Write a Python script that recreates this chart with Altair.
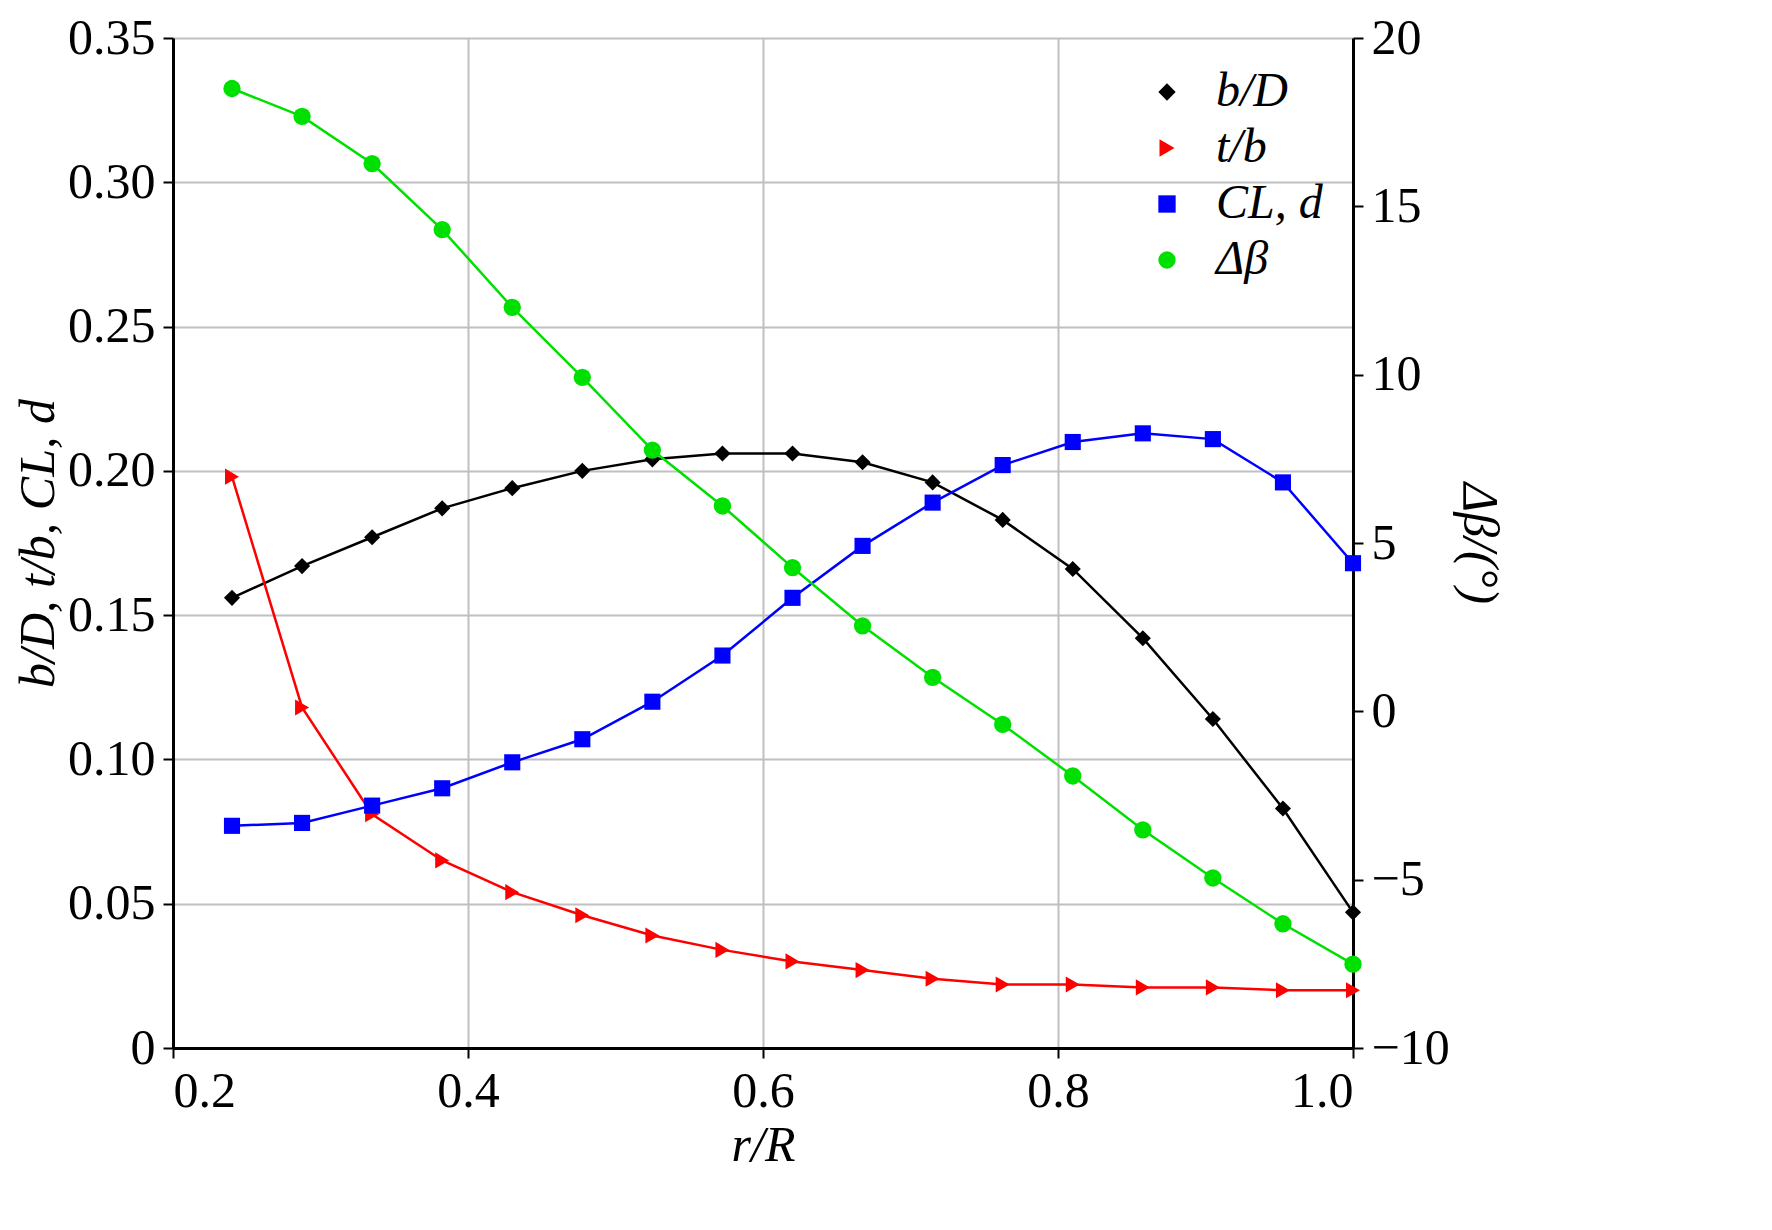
import altair as alt
import pandas as pd

r_R = [0.24, 0.2875, 0.335, 0.3825, 0.43, 0.4775, 0.525, 0.5725, 0.62,
       0.6675, 0.715, 0.7625, 0.81, 0.8575, 0.905, 0.9525, 1.0]
b_D = [0.156, 0.167, 0.177, 0.187, 0.194, 0.200, 0.204, 0.206, 0.206,
       0.203, 0.196, 0.183, 0.166, 0.142, 0.114, 0.083, 0.047]
t_b = [0.198, 0.118, 0.081, 0.065, 0.054, 0.046, 0.039, 0.034, 0.030,
       0.027, 0.024, 0.022, 0.022, 0.021, 0.021, 0.020, 0.020]
C_Ld = [0.077, 0.078, 0.084, 0.090, 0.099, 0.107, 0.120, 0.136, 0.156,
        0.174, 0.189, 0.202, 0.210, 0.213, 0.211, 0.196, 0.168]
d_beta = [18.5, 17.67, 16.27, 14.31, 12.0, 9.92, 7.76, 6.10, 4.27,
          2.54, 1.01, -0.39, -1.92, -3.52, -4.95, -6.31, -7.51]

names = ["b/D", "t/b", "CL, d", "Δβ"]
colors = ["#000000", "#ff0000", "#0000ff", "#00e000"]
shapes = ["diamond", "triangle-right", "square", "circle"]

rows = []
for name, vals in zip(names, [b_D, t_b, C_Ld, d_beta]):
    for x, v in zip(r_R, vals):
        rows.append({"r": x, "v": v, "series": name})
df = pd.DataFrame(rows)

FONT = "Liberation Serif"
ax_style = dict(labelFont=FONT, titleFont=FONT, labelFontSize=50, titleFontSize=50,
                labelColor="black", titleColor="black", domainColor="black", domainWidth=3,
                tickColor="black", tickWidth=2, tickSize=10, titleFontWeight="normal",
                titleFontStyle="italic", labelPadding=8, labelOverlap=False)

color = alt.Color("series:N", scale=alt.Scale(domain=names, range=colors),
                  legend=alt.Legend(title=None, orient="top-right", labelFont=FONT,
                                    labelFontSize=48, labelFontStyle="italic",
                                    symbolSize=300, rowPadding=8, offset=30,
                                    symbolStrokeWidth=0, labelOffset=25,
                                    labelColor="black"))
shape = alt.Shape("series:N", scale=alt.Scale(domain=names, range=shapes), legend=None)
xenc = alt.X("r:Q", scale=alt.Scale(domain=[0.2, 1.0], nice=False),
             axis=alt.Axis(title="r/R", values=[0.2, 0.4, 0.6, 0.8, 1.0], format=".1f",
                           gridColor="#c0c0c0", gridWidth=2, **ax_style))

left_df = df[df.series != "Δβ"]
right_df = df[df.series == "Δβ"]

yl = alt.Y("v:Q", scale=alt.Scale(domain=[0, 0.35], nice=False),
           axis=alt.Axis(title="b/D, t/b, CL, d",
                         values=[0, 0.05, 0.1, 0.15, 0.2, 0.25, 0.3, 0.35],
                         labelExpr="datum.value == 0 ? '0' : format(datum.value, '.2f')",
                         gridColor="#c0c0c0", gridWidth=2, **ax_style))
yr = alt.Y("v:Q", scale=alt.Scale(domain=[-10, 20], nice=False),
           axis=alt.Axis(title="Δβ/(°)", orient="right", values=[-10, -5, 0, 5, 10, 15, 20],
                         labelExpr="replace(format(datum.value, 'd'), '-', '−')",
                         grid=False, **ax_style))

left_line = alt.Chart(left_df).mark_line(strokeWidth=2.5).encode(x=xenc, y=yl, color=color, detail="series:N")
left_pts = alt.Chart(left_df).mark_point(filled=True, size=260, opacity=1).encode(
    x=xenc, y=yl, color=color, shape=shape)
right_line = alt.Chart(right_df).mark_line(strokeWidth=2.5).encode(x=xenc, y=yr, color=color)
right_pts = alt.Chart(right_df).mark_point(filled=True, size=300, opacity=1).encode(
    x=xenc, y=yr, color=color, shape=shape)

left = alt.layer(left_line, left_pts)
right = alt.layer(right_line, right_pts)

chart = alt.layer(left, right).resolve_scale(y="independent").properties(
    width=1180, height=1010
).configure_view(stroke="black", strokeWidth=3).configure(background="white")

chart.save("out.html", embed_options={"renderer": "svg", "actions": False})
